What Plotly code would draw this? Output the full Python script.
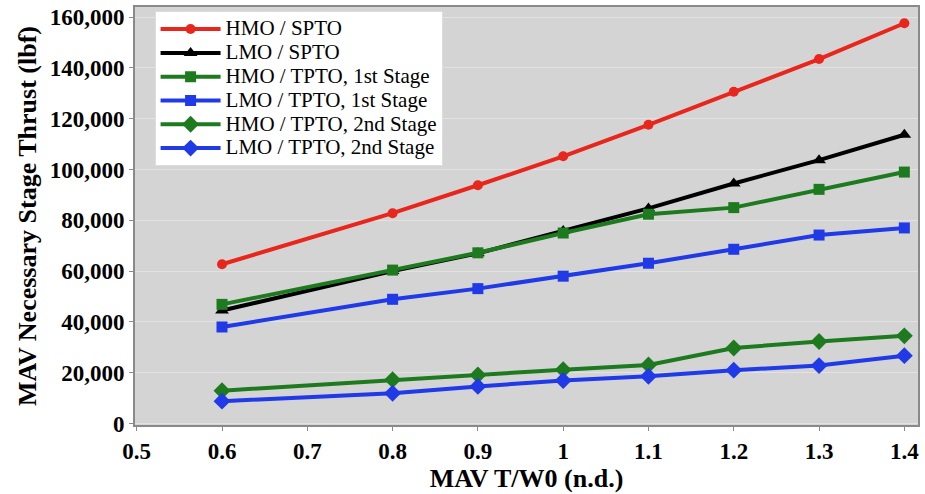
import plotly.graph_objects as go

x_vals = [0.6, 0.8, 0.9, 1.0, 1.1, 1.2, 1.3, 1.4]

hmo_spto = [62700, 82800, 93800, 105200, 117600, 130600, 143500, 157600]
lmo_spto = [44500, 60000, 67000, 75800, 84700, 94500, 103700, 113700]
hmo_tpto_1 = [46900, 60400, 67200, 75000, 82400, 85000, 92200, 99000]
lmo_tpto_1 = [38000, 48900, 53100, 58000, 63100, 68600, 74200, 77000]
hmo_tpto_2 = [12900, 17200, 19100, 21200, 23000, 29700, 32300, 34500]
lmo_tpto_2 = [8800, 11900, 14600, 16900, 18600, 21000, 22800, 26700]

x_ticks = [0.5, 0.6, 0.7, 0.8, 0.9, 1.0, 1.1, 1.2, 1.3, 1.4]
x_tick_text = ["0.5", "0.6", "0.7", "0.8", "0.9", "1", "1.1", "1.2", "1.3", "1.4"]
y_ticks = [0, 20000, 40000, 60000, 80000, 100000, 120000, 140000, 160000]

series = [
    ("HMO / SPTO", hmo_spto, "#e8261c", "circle", 10),
    ("LMO / SPTO", lmo_spto, "#000000", "triangle-up", 12),
    ("HMO / TPTO, 1st Stage", hmo_tpto_1, "#1e7a1e", "square", 11),
    ("LMO / TPTO, 1st Stage", lmo_tpto_1, "#1f3ae6", "square", 11),
    ("HMO / TPTO, 2nd Stage", hmo_tpto_2, "#1e7a1e", "diamond", 13),
    ("LMO / TPTO, 2nd Stage", lmo_tpto_2, "#1f3ae6", "diamond", 13),
]

fig = go.Figure()
for name, vals, color, sym, size in series:
    fig.add_trace(go.Scatter(
        x=x_vals, y=vals, name=f'<span style="font-size:21px">{name}</span>',
        mode="lines+markers",
        line=dict(color=color, width=4),
        marker=dict(color=color, symbol=sym, size=size),
    ))

font_family = "Liberation Serif, Times New Roman, serif"
fig.update_layout(
    width=925, height=494,
    margin=dict(l=135, r=5, t=5, b=69),
    paper_bgcolor="white",
    plot_bgcolor="#d4d4d4",
    font=dict(family=font_family, color="black"),
    showlegend=True,
    legend=dict(
        x=0.025, y=0.99, xanchor="left", yanchor="top",
        bgcolor="white", bordercolor="#dddddd", borderwidth=1,
        font=dict(family=font_family, size=16, color="black"),
        itemwidth=60, tracegroupgap=0,
    ),
    xaxis=dict(
        range=[0.498, 1.416], tickvals=x_ticks, ticktext=x_tick_text,
        showgrid=False, zeroline=False,
        showline=True, linecolor="#8a8a8a", linewidth=2, mirror=True,
        ticks="outside", ticklen=4, tickcolor="#8a8a8a",
        tickfont=dict(family=font_family, size=23, color="black", weight="bold"),
        title=dict(text="<b>MAV T/W0 (n.d.)</b>", font=dict(family=font_family, size=26), standoff=4),
    ),
    yaxis=dict(
        range=[-600, 164000], tickvals=y_ticks, tickformat=",d",
        showgrid=True, gridcolor="#e2e2e2", gridwidth=1,
        zeroline=False,
        showline=True, linecolor="#8a8a8a", linewidth=2, mirror=True,
        ticks="outside", ticklen=4, tickcolor="#8a8a8a",
        tickfont=dict(family=font_family, size=23, color="black", weight="bold"),
        title=dict(text="<b>MAV Necessary Stage Thrust (lbf)</b>", font=dict(family=font_family, size=26), standoff=6),
    ),
)

fig.write_html("out.html")
